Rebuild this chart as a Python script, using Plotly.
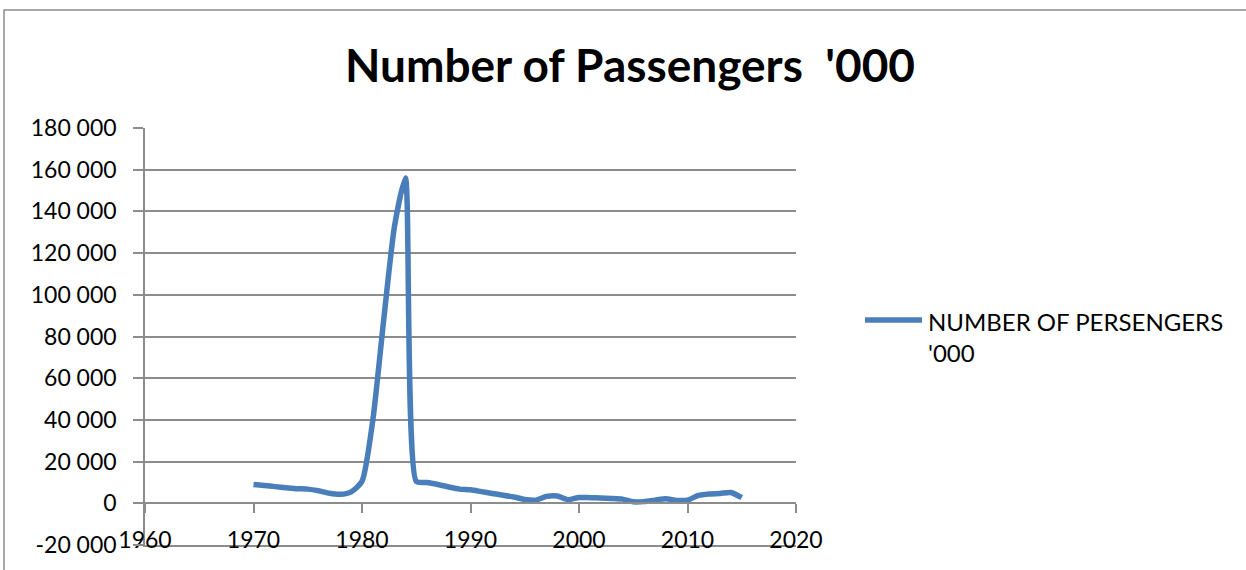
import plotly.graph_objects as go

years = list(range(1970, 2016))
passengers = [9000, 8500, 8000, 7500, 7000, 6800, 6000, 4800, 4300, 5500,
              10500, 40000, 88000, 133000, 156000, 10500, 10000, 9000, 7800, 6800,
              6500, 5600, 4700, 3900, 3000, 1800, 1500, 3300, 3500, 1700,
              2800, 2700, 2500, 2300, 2000, 700, 800, 1500, 2200, 1400,
              1500, 3800, 4500, 4700, 5200, 2700]
series_name = "NUMBER OF PERSENGERS<br>'000"
title_text = "Number of Passengers \u00a0'000"
y_ticks = list(range(-20000, 180001, 20000))
y_ticktext = [f"{v:,}".replace(",", " ") for v in y_ticks]
x_ticks = list(range(1960, 2021, 10))

LINE = "#4A7EBB"
GRID = "#8C8C8C"
FONT = "Lato"

fig = go.Figure()
fig.add_trace(go.Scatter(x=years, y=passengers, mode="lines", name=series_name,
                         line=dict(color=LINE, width=5.5, shape="spline", smoothing=0.6),
                         showlegend=False))
# invisible trace for the zero-crossing x axis
fig.add_trace(go.Scatter(x=[1960, 2020], y=[None, None], xaxis="x2", showlegend=False,
                         hoverinfo="skip"))

fig.update_layout(
    width=1246, height=570,
    margin=dict(l=145, r=450, t=128, b=25),
    paper_bgcolor="white", plot_bgcolor="white",
    font=dict(family=FONT, color="black", size=23),
    title=dict(text=f"<b>{title_text}</b>", x=(630) / 1246, xanchor="center",
               y=1 - 66 / 570, yanchor="middle", font=dict(size=46, family=FONT, color="black")),
    xaxis=dict(range=[1960, 2020], tickvals=x_ticks, showgrid=False, zeroline=False,
               showline=True, linecolor=GRID, linewidth=1.5, ticks="",
               ticklabelstandoff=-26, tickfont=dict(size=23)),
    xaxis2=dict(range=[1960, 2020], tickvals=x_ticks, overlaying="x", anchor="free",
                position=0.1, showgrid=False, zeroline=False, showline=True,
                linecolor=GRID, linewidth=1.5, ticks="outside", ticklen=9,
                tickcolor=GRID, tickwidth=1.5, showticklabels=False),
    yaxis=dict(range=[-20000, 180000], tickvals=y_ticks, ticktext=y_ticktext,
               showgrid=True, gridcolor=GRID, gridwidth=1.5, zeroline=False,
               showline=True, linecolor=GRID, linewidth=1.5, ticks="outside",
               ticklen=10, tickcolor=GRID, tickwidth=1.5, tickfont=dict(size=23),
               ticklabelstandoff=12),
    shapes=[
        dict(type="rect", xref="paper", yref="paper", x0=-141 / 651, x1=1.9,
             y0=-0.3, y1=(545 - 10) / 417, line=dict(color=GRID, width=1.5),
             fillcolor="rgba(0,0,0,0)", layer="below"),
        dict(type="line", xref="paper", yref="paper", x0=(865 - 145) / 651,
             x1=(922 - 145) / 651, y0=(545 - 320) / 417, y1=(545 - 320) / 417,
             line=dict(color=LINE, width=5.5)),
    ],
    annotations=[
        dict(text=series_name, xref="paper", yref="paper", x=(926 - 145) / 651,
             y=(545 - 305) / 417, xanchor="left", yanchor="top", align="left",
             showarrow=False, font=dict(size=24, family=FONT, color="black")),
    ],
)

fig.write_html("out.html")
